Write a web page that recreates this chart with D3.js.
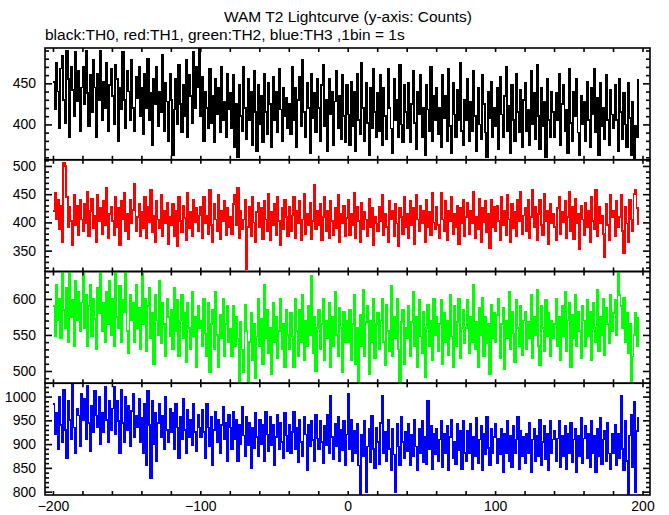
<!DOCTYPE html>
<html><head><meta charset="utf-8">
<script src="https://cdn.jsdelivr.net/npm/d3@7"></script>
<style>
html,body{margin:0;padding:0;background:#fff;}
text{font-family:"Liberation Sans",Arial,Helvetica,sans-serif;}
</style>
</head><body>
<svg id="chart" width="669" height="515"></svg>
<script>
// ---------------- data ----------------
const titleText = "WAM T2 Lightcurve (y-axis: Counts)";
const subtitleText = "black:TH0, red:TH1, green:TH2, blue:TH3 ,1bin = 1s";
const tStart = -200;              // first bin time (s), 1 bin = 1 s
const xDomain = [-205.4, 205.1];
const xTickLabels = [-200, -100, 0, 100, 200];
const seriesNames = ["TH0", "TH1", "TH2", "TH3"];
const seriesColors = ["#000000", "#ff0000", "#00ff00", "#0000ff"];
const yDomains = [[357, 493], [313, 511], [483, 638], [793, 1028]];
const yTickLabels = [[400, 450], [350, 400, 450, 500], [500, 550, 600], [800, 850, 900, 950, 1000]];

const th0 = [
452,418,475,440,395,468,483,430,402,490,455,385,470,442,410,488,428,465,392,445,
470,425,490,438,398,460,415,478,445,385,462,430,490,405,452,420,475,392,448,468,
435,400,472,455,380,445,418,488,430,395,465,440,405,478,420,392,458,432,470,410,
445,388,462,420,480,405,438,375,455,425,470,398,440,415,485,392,450,428,380,462,
430,362,418,455,400,472,425,390,448,410,478,385,460,435,402,488,420,470,445,492,
410,458,380,440,420,395,468,402,435,378,455,412,445,390,470,405,428,385,462,418,
438,395,460,372,425,360,448,410,392,470,420,382,455,405,440,375,465,415,368,448,
400,435,378,462,415,388,450,425,372,458,405,440,390,468,418,380,445,410,432,395,
425,388,470,405,445,372,430,458,398,478,415,385,450,420,365,462,408,438,390,455,
420,380,448,472,398,430,368,455,412,440,375,428,465,395,435,382,460,410,378,448,
412,375,452,398,440,368,462,405,388,475,420,380,450,402,362,445,395,468,415,385,
438,392,460,375,445,410,382,468,420,395,365,455,405,430,385,472,400,378,448,415,
395,450,378,425,465,402,370,440,412,460,385,420,362,448,418,392,470,380,435,405,
445,388,420,372,460,408,435,380,468,398,365,450,412,385,442,405,475,392,375,430,
405,455,380,428,392,465,410,368,445,400,382,460,425,390,360,440,408,452,385,420,
398,445,370,458,412,385,435,470,392,422,365,448,405,380,462,415,390,442,372,430,
450,392,418,375,465,400,438,382,472,410,370,445,398,428,360,455,405,385,440,415,
385,438,405,462,375,425,448,392,418,365,468,402,380,440,410,455,390,362,435,400,
428,380,452,405,372,445,412,468,390,432,362,450,398,420,382,460,405,375,442,412,
395,448,405,368,455,415,382,438,400,372,450,408,362,428,358,398,385,455
];
const th1 = [
420,452,405,440,388,430,365,505,500,445,392,428,402,360,448,395,430,378,440,405,
385,432,398,455,375,420,442,390,412,365,448,402,425,380,438,395,462,372,415,428,
402,378,445,392,425,360,438,405,452,385,415,370,440,398,422,468,385,410,432,375,
418,390,445,372,428,400,458,382,412,365,438,405,390,448,375,420,398,435,362,410,
395,432,375,420,358,445,402,382,430,408,368,452,390,418,375,440,400,425,385,412,
428,372,445,398,412,380,458,395,365,432,405,385,448,370,420,402,438,378,425,392,
410,380,432,448,395,462,372,420,388,405,440,318,392,428,375,445,400,365,418,435,
392,425,370,438,405,385,450,368,418,395,432,378,445,402,360,425,388,440,410,375,
428,385,412,445,372,420,398,438,368,405,450,380,415,395,435,370,402,466,388,420,
395,432,368,410,445,385,420,372,438,402,378,425,390,448,365,415,398,430,375,408,
440,378,415,395,452,372,428,402,365,435,388,418,405,375,442,392,425,360,410,398,
385,428,402,448,378,415,392,365,438,405,420,375,432,398,358,425,410,380,445,392,
415,372,438,395,425,362,448,405,385,430,398,420,365,440,392,418,378,452,400,388,
428,395,372,452,405,385,438,368,420,402,445,380,415,392,430,362,425,398,440,375,
410,435,380,420,398,455,372,410,388,442,365,425,400,438,382,415,355,440,392,428,
385,430,402,368,445,395,420,378,448,405,365,432,390,418,375,440,402,455,380,412,
425,385,440,372,410,458,392,428,368,415,440,395,378,450,402,420,362,432,398,415,
392,368,425,445,380,418,400,438,372,410,455,385,428,370,442,398,415,352,430,405,
378,435,392,420,365,445,402,388,458,375,428,398,412,380,338,432,395,368,448,410,
420,375,438,392,410,448,385,345,428,398,365,440,405,385,450,458,425,395
];
const th2 = [
590,548,620,570,600,545,640,585,560,615,540,645,575,598,535,625,570,610,555,595,
640,560,605,535,590,620,548,600,572,530,615,580,645,555,595,540,610,565,625,550,
600,535,645,575,560,618,540,598,582,642,555,525,605,570,595,540,620,560,588,530,
645,565,600,528,590,615,545,580,510,605,570,550,625,538,595,565,520,600,575,548,
585,530,615,555,598,520,570,605,545,580,512,595,560,530,610,548,575,505,590,560,
570,535,600,552,520,595,498,565,585,530,610,550,505,578,545,600,520,565,590,540,
558,520,590,535,575,545,482,568,530,498,592,555,478,540,580,515,565,490,548,600,
535,572,510,620,545,585,525,560,495,595,540,575,518,555,600,530,565,505,585,550,
530,580,548,505,600,555,520,585,540,605,515,570,535,590,550,632,525,575,500,560,
585,530,565,600,515,570,545,595,505,575,535,610,550,520,588,560,498,582,540,570,
540,585,515,565,605,510,560,482,578,535,612,520,568,590,495,570,540,600,518,565,
580,530,570,600,540,508,592,555,528,618,520,575,545,600,530,480,568,585,510,560,
545,590,520,568,610,535,575,505,598,548,525,582,492,560,592,535,570,515,600,550,
575,528,565,598,510,580,540,570,522,605,548,505,590,535,568,600,518,560,585,538,
560,598,525,575,540,620,530,568,505,588,550,602,520,575,538,565,495,592,545,580,
540,578,600,518,565,588,502,570,545,610,530,582,552,512,598,560,535,590,522,570,
582,530,568,545,605,518,575,550,612,535,508,590,560,528,598,548,580,520,570,545,
565,600,535,575,515,590,548,610,528,570,595,505,578,545,605,535,582,555,518,590,
570,535,598,548,582,515,595,560,540,612,528,575,550,600,522,588,565,538,605,555,
580,598,550,640,605,590,560,602,540,580,525,565,482,520,550,580,535,575
];
const th3 = [
985,920,965,890,1000,940,905,1015,930,870,990,950,910,1025,935,880,975,960,895,1005,
950,995,910,1022,945,885,980,925,1012,960,935,1000,900,965,925,1020,950,905,990,930,
975,1020,920,990,948,880,1015,945,905,1000,930,980,895,970,1005,915,960,935,995,905,
955,880,985,855,1012,940,828,990,900,965,865,945,985,915,960,890,1000,930,905,975,
925,965,890,985,935,870,958,910,995,930,880,972,915,950,898,985,925,885,962,935,
915,972,925,870,985,935,895,958,855,930,968,905,950,880,940,978,910,945,865,962,
935,890,968,910,952,865,940,900,978,918,875,958,898,945,850,935,892,965,915,875,
950,900,940,865,968,920,885,958,898,940,855,915,962,890,945,905,870,965,918,885,
940,880,925,968,890,935,862,950,905,875,958,920,845,940,895,948,908,865,962,912,
890,948,905,860,938,898,962,880,1002,915,868,942,895,958,865,930,888,948,855,920,
1005,890,950,865,928,880,942,855,795,920,875,948,798,895,932,862,960,890,850,935,
905,858,945,1002,880,925,865,952,890,845,932,878,800,942,895,855,958,905,870,925,
885,942,855,920,875,952,895,845,932,880,948,862,915,858,992,890,938,848,922,878,
932,865,910,948,852,922,882,938,845,915,952,870,905,858,942,888,928,848,948,882,
865,928,882,942,848,915,875,955,860,910,938,845,922,878,958,892,855,932,880,915,
942,860,912,878,932,842,922,882,948,865,918,852,938,880,910,958,848,928,875,915,
860,922,880,945,842,910,932,865,918,875,952,855,905,938,868,922,845,948,882,910,
928,865,912,948,852,918,875,938,848,922,882,945,862,910,932,842,918,875,955,860,
912,938,870,922,852,948,882,918,842,932,875,955,858,910,928,865,945,880,848,922,
880,940,855,922,870,1002,890,845,948,865,795,918,962,852,988,798,928,958
];
const seriesData = [th0, th1, th2, th3];

// ---------------- layout ----------------
const W = 669, H = 515;
const plotLeft = 45, plotRight = 650, plotTop = 48, plotBottom = 495;
const ph = (plotBottom - plotTop) / 4;
const fontSize = 14;
const headFontSize = 15.5;
const fontFam = '"Liberation Sans",Arial,Helvetica,sans-serif';

const svg = d3.select("#chart");
svg.append("rect").attr("width", W).attr("height", H).attr("fill", "#fff");

svg.append("text").attr("x", 348).attr("y", 22).attr("text-anchor", "middle")
  .attr("font-size", headFontSize).attr("fill", "#000").text(titleText);
svg.append("text").attr("x", 45).attr("y", 40)
  .attr("font-size", headFontSize).attr("fill", "#000").text(subtitleText);

const x = d3.scaleLinear().domain(xDomain).range([plotLeft, plotRight]);
const xTicks = d3.range(-200, 201, 20);

const styleAxis = sel => {
  sel.select(".domain").remove();
  sel.selectAll("line").attr("stroke", "#000").attr("stroke-width", 1.6);
  sel.selectAll("text").attr("font-size", fontSize).attr("fill", "#000")
    .attr("font-family", fontFam);
};

seriesData.forEach((data, i) => {
  const y0 = plotTop + i * ph, y1 = y0 + ph;
  const dom = yDomains[i];
  const y = d3.scaleLinear().domain(dom).range([y1, y0]);
  const g = svg.append("g");

  const cid = "clip" + i;
  svg.append("clipPath").attr("id", cid).append("rect")
    .attr("x", plotLeft).attr("y", y0).attr("width", plotRight - plotLeft).attr("height", ph);

  const line = d3.line()
    .x((d, j) => x(tStart + j))
    .y(d => y(d))
    .curve(d3.curveStepAfter);
  g.append("path").datum(data)
    .attr("clip-path", `url(#${cid})`)
    .attr("fill", "none").attr("stroke", seriesColors[i])
    .attr("stroke-width", 1.7).attr("shape-rendering", "crispEdges")
    .attr("d", line);

  const minor = d3.range(Math.ceil(dom[0] / 10) * 10, dom[1], 10).filter(v => v % 50 !== 0);
  const major = d3.range(Math.ceil(dom[0] / 50) * 50, dom[1], 50);

  g.append("g").attr("transform", `translate(${plotLeft},0)`)
    .call(d3.axisLeft(y).tickValues(minor).tickSize(-4).tickFormat("")).call(styleAxis);
  g.append("g").attr("transform", `translate(${plotLeft},0)`)
    .call(d3.axisLeft(y).tickValues(major).tickSize(-7).tickPadding(9)
      .tickFormat(v => yTickLabels[i].includes(v) ? String(v) : ""))
    .call(styleAxis);
  g.append("g").attr("transform", `translate(${plotRight},0)`)
    .call(d3.axisRight(y).tickValues(minor).tickSize(-4).tickFormat("")).call(styleAxis);
  g.append("g").attr("transform", `translate(${plotRight},0)`)
    .call(d3.axisRight(y).tickValues(major).tickSize(-7).tickFormat("")).call(styleAxis);
  g.append("g").attr("transform", `translate(0,${y0})`)
    .call(d3.axisBottom(x).tickValues(xTicks).tickSize(4).tickFormat("")).call(styleAxis);
  g.append("g").attr("transform", `translate(0,${y1})`)
    .call(d3.axisTop(x).tickValues(xTicks).tickSize(4).tickFormat("")).call(styleAxis);

  g.append("rect").attr("x", plotLeft).attr("y", y0).attr("width", plotRight - plotLeft).attr("height", ph)
    .attr("fill", "none").attr("stroke", "#000").attr("stroke-width", 1.6);
});

svg.append("g").attr("transform", `translate(0,${plotBottom})`)
  .call(d3.axisBottom(x).tickValues(xTickLabels).tickSize(0).tickPadding(6))
  .call(sel => {
    sel.select(".domain").remove();
    sel.selectAll("text").attr("font-size", fontSize).attr("fill", "#000")
      .attr("font-family", fontFam);
  });
</script>
</body></html>
